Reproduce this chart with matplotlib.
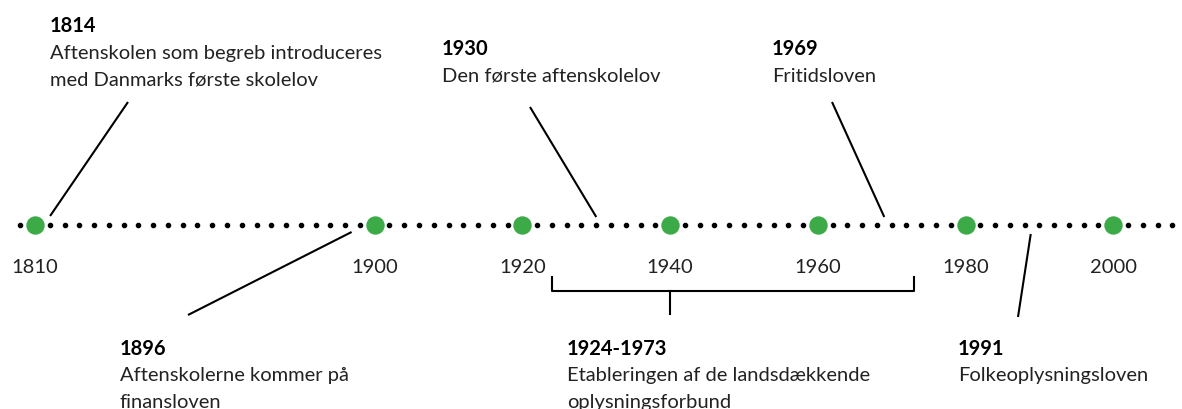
import matplotlib
matplotlib.use("Agg")
import matplotlib.pyplot as plt

plt.rcParams['font.family'] = ['Lato', 'DejaVu Sans']

# axis years (green markers + tick labels)
tick_years = [1810, 1900, 1920, 1940, 1960, 1980, 2000]

# events
event_years = [1814, 1896, 1930, 1969, 1991]
event_titles = ["1814", "1896", "1930", "1969", "1991"]
event_texts = [
    "Aftenskolen som begreb introduceres\nmed Danmarks første skolelov",
    "Aftenskolerne kommer på\nfinansloven",
    "Den første aftenskolelov",
    "Fritidsloven",
    "Folkeoplysningsloven",
]

# period bracket
period_start = 1924
period_end = 1973
period_stem = 1940
period_title = "1924-1973"
period_text = "Etableringen af de landsdækkende\noplysningsforbund"


def pos(year):
    # axis is broken: 1810-1900 compressed, then one dot per 2 years
    if year <= 1900:
        return (year - 1810) * 23 / 90
    return 23 + (year - 1900) / 2


W, H = 1182, 410
x0, step = 35, 14.77  # pixel of 1810 and pixels per dot
FS = 14.5
fig = plt.figure(figsize=(W / 100, H / 100), dpi=100)
ax = fig.add_axes([0, 0, 1, 1])
ax.set_xlim(-x0 / step, (W - x0) / step)
ax.set_ylim(H, 0)
ax.axis("off")


def px(x):
    # pixel -> data units on x
    return (x - x0) / step


line_y = 226

# dots
green_pos = [pos(y) for y in tick_years]
small = [u for u in range(-1, 78) if u not in [round(g) for g in green_pos]]
ax.scatter(small, [line_y] * len(small), s=9, color="black", zorder=2)
ax.scatter(green_pos, [line_y] * len(green_pos), s=150, color="#3daa48", zorder=3)

for y in tick_years:
    ax.text(pos(y), 273, str(y), ha="center", va="baseline", fontsize=FS, color="#222222")

# layout per event: text left px, title baseline px, connector far end px,
# near end y and small x shift (px)
ev_text_x = [50, 120, 442, 772, 958]
ev_base_y = [32, 355, 55, 55, 355]
ev_end = [(128, 103), (188, 316), (530, 108), (832, 103), (1018, 318)]
ev_near_y = [217, 233, 218, 218, 235]
ev_near_dx = [0, -8, 0, 0, -16]

for i, yr in enumerate(event_years):
    ex, ey = ev_end[i]
    ax.plot([pos(yr) + ev_near_dx[i] / step, px(ex)], [ev_near_y[i], ey],
            color="black", lw=1.5, solid_capstyle="butt")
    tx = px(ev_text_x[i])
    ax.text(tx, ev_base_y[i], event_titles[i], fontsize=FS, fontweight="bold",
            va="baseline", ha="left", color="black")
    for j, line in enumerate(event_texts[i].split("\n")):
        ax.text(tx, ev_base_y[i] + 26.5 * (j + 1), line, fontsize=FS,
                va="baseline", ha="left", color="#222222")

# bracket
a, b, c = pos(period_start), pos(period_end), pos(period_stem)
ax.plot([a, a, b, b], [278, 292, 292, 278], color="black", lw=1.5)
ax.plot([c, c], [292, 315], color="black", lw=1.5)
ax.text(px(567), 355, period_title, fontsize=FS, fontweight="bold", va="baseline", ha="left")
for j, line in enumerate(period_text.split("\n")):
    ax.text(px(567), 355 + 26.5 * (j + 1), line, fontsize=FS, va="baseline",
            ha="left", color="#222222")

fig.savefig("out.png", dpi=100)
